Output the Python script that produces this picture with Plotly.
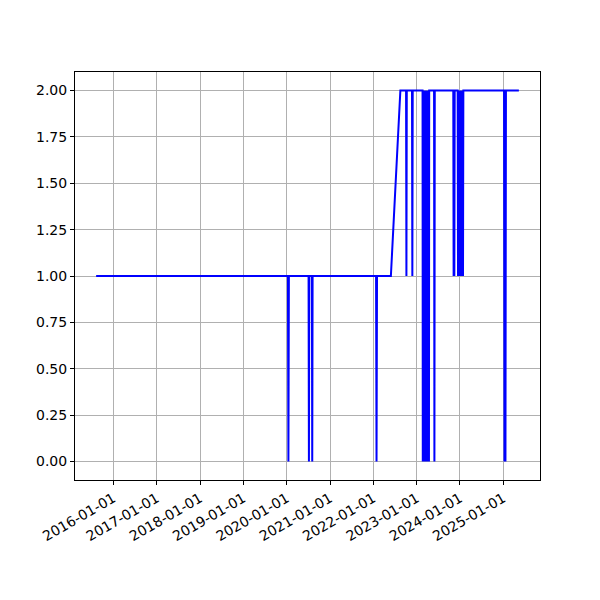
import pandas as pd
import plotly.graph_objects as go

dates = [
    "2015-08-09", "2020-01-12", "2020-01-16", "2020-01-20",
    "2020-07-04", "2020-07-07", "2020-07-10",
    "2020-08-01", "2020-08-04", "2020-08-07",
    "2022-01-24", "2022-01-28", "2022-02-01",
    "2022-05-29", "2022-08-17",
    "2022-10-04", "2022-10-07", "2022-10-10",
    "2022-11-23", "2022-11-26", "2022-11-29",
    "2023-02-20", "2023-02-22", "2023-02-24", "2023-02-26",
    "2023-02-28", "2023-03-02", "2023-03-04", "2023-03-06", "2023-03-08",
    "2023-03-10", "2023-03-12", "2023-03-14", "2023-03-16", "2023-03-18",
    "2023-03-20", "2023-03-22", "2023-03-24", "2023-03-26", "2023-03-28",
    "2023-03-30", "2023-04-01", "2023-04-03", "2023-04-05", "2023-04-07",
    "2023-04-09", "2023-04-11", "2023-04-13", "2023-04-15", "2023-04-17",
    "2023-05-28", "2023-05-31", "2023-06-03",
    "2023-11-06", "2023-11-09", "2023-11-12", "2023-11-15", "2023-11-18",
    "2023-12-13", "2023-12-16", "2023-12-19", "2023-12-22", "2023-12-25",
    "2023-12-28", "2023-12-31", "2024-01-03", "2024-01-06", "2024-01-09",
    "2024-01-12", "2024-01-15", "2024-01-18", "2024-01-21", "2024-01-24",
    "2024-01-27", "2024-01-30",
    "2025-01-07", "2025-01-11", "2025-01-15", "2025-01-19", "2025-01-23",
    "2025-05-12",
]
values = [
    1, 1, 0, 1,
    1, 0, 1,
    1, 0, 1,
    1, 0, 1,
    1, 2,
    2, 1, 2,
    2, 1, 2,
    2, 0, 2, 0,
    2, 0, 2, 0, 2,
    0, 2, 0, 2, 0,
    2, 0, 2, 0, 2,
    0, 2, 0, 2, 0,
    2, 0, 2, 0, 2,
    2, 0, 2,
    2, 1, 2, 1, 2,
    2, 1, 2, 1, 2,
    1, 2, 1, 2, 1,
    2, 1, 2, 1, 2,
    1, 2,
    2, 0, 2, 0, 2,
    2,
]
tick_dates = [f"{y}-01-01" for y in range(2016, 2026)]
y_ticks = [0.0, 0.25, 0.5, 0.75, 1.0, 1.25, 1.5, 1.75, 2.0]

x = pd.to_datetime(pd.Series(dates))
span = x.max() - x.min()
x_range = [x.min() - 0.05 * span, x.max() + 0.05 * span]

fig = go.Figure()
fig.add_trace(go.Scatter(x=x, y=values, mode="lines",
                         line=dict(color="#0000ff", width=2, simplify=False),
                         showlegend=False))

font = dict(family="DejaVu Sans", size=14, color="black")
axis_common = dict(showline=True, linecolor="black", linewidth=1, mirror=True,
                   ticks="outside", ticklen=4, tickcolor="black",
                   showgrid=True, gridcolor="#b0b0b0", gridwidth=1,
                   zeroline=False, tickfont=font)
fig.update_xaxes(type="date", range=x_range, tickmode="array",
                 tickvals=tick_dates, ticktext=tick_dates, tickangle=-30,
                 **axis_common)
fig.update_yaxes(range=[-0.1, 2.1], tickmode="array", tickvals=y_ticks,
                 ticktext=[f"{v:.2f}" for v in y_ticks], **axis_common)
fig.update_layout(width=600, height=600,
                  margin=dict(l=67, r=68, t=64, b=128, autoexpand=False),
                  paper_bgcolor="white", plot_bgcolor="white", font=font)
fig.write_html("out.html")
